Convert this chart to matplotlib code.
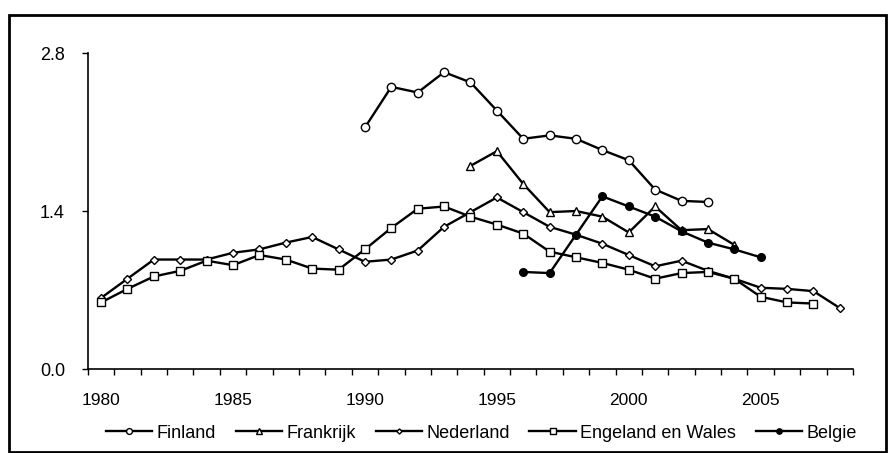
import matplotlib
matplotlib.use("Agg")
import matplotlib.pyplot as plt
from matplotlib.patches import Rectangle
import numpy as np

plt.rcParams["font.family"] = ["Liberation Sans", "DejaVu Sans"]

# --- data ---
fin_years = list(range(1990, 2004))
fin_vals = [2.14, 2.50, 2.45, 2.63, 2.54, 2.29, 2.04, 2.07, 2.04, 1.94, 1.85, 1.59, 1.49, 1.48]

fra_years = list(range(1994, 2005))
fra_vals = [1.80, 1.93, 1.64, 1.39, 1.40, 1.35, 1.21, 1.44, 1.23, 1.24, 1.10]

ned_years = list(range(1980, 2009))
ned_vals = [0.63, 0.80, 0.97, 0.97, 0.97, 1.03, 1.06, 1.12, 1.17, 1.06,
            0.95, 0.97, 1.05, 1.26, 1.39, 1.52, 1.39, 1.26, 1.19, 1.11,
            1.01, 0.91, 0.96, 0.87, 0.80, 0.72, 0.71, 0.69, 0.54]

eng_years = list(range(1980, 2008))
eng_vals = [0.59, 0.71, 0.82, 0.87, 0.96, 0.92, 1.01, 0.97, 0.89, 0.88,
            1.06, 1.25, 1.42, 1.44, 1.35, 1.28, 1.20, 1.04, 0.99, 0.94,
            0.88, 0.80, 0.85, 0.86, 0.80, 0.64, 0.59, 0.58]

bel_years = list(range(1996, 2006))
bel_vals = [0.86, 0.85, 1.19, 1.53, 1.44, 1.35, 1.22, 1.12, 1.06, 0.99]

label_years = [1980, 1985, 1990, 1995, 2000, 2005]
y_ticks = [0.0, 1.4, 2.8]

fig = plt.figure(figsize=(8.88, 4.53), dpi=100)
ax = fig.add_axes([0.099, 0.1854, 0.8616, 0.6976])

lw = 1.7
ax.plot(fin_years, fin_vals, color="black", lw=lw, marker="o", ms=6,
        mfc="white", mec="black", mew=1.0, label="Finland")
ax.plot(fra_years, fra_vals, color="black", lw=lw, marker="^", ms=6,
        mfc="white", mec="black", mew=1.0, label="Frankrijk")
ax.plot(ned_years, ned_vals, color="black", lw=lw, marker="D", ms=3.8,
        mfc="white", mec="black", mew=1.0, label="Nederland")
ax.plot(eng_years, eng_vals, color="black", lw=lw, marker="s", ms=6,
        mfc="white", mec="black", mew=1.0, label="Engeland en Wales")
ax.plot(bel_years, bel_vals, color="black", lw=lw, marker="o", ms=5.5,
        mfc="black", mec="black", mew=1.0, label="Belgie")

ax.set_xlim(1979.5, 2008.5)
ax.set_ylim(0, 2.8)
ax.set_yticks(y_ticks)
ax.set_yticklabels([f"{v:.1f}" for v in y_ticks])
ax.set_xticks(label_years)
ax.set_xticks(np.arange(1979.5, 2009.0, 1.0), minor=True)
ax.tick_params(axis="x", which="major", length=0, pad=17, labelsize=12.5)
ax.tick_params(axis="x", which="minor", length=4, width=1, direction="out")
ax.tick_params(axis="y", length=4.5, width=1, direction="out", pad=12, labelsize=13)

ax.spines["top"].set_visible(False)
ax.spines["right"].set_visible(False)
ax.spines["left"].set_linewidth(1.2)
ax.spines["bottom"].set_linewidth(1.2)

fig.legend(loc="center", bbox_to_anchor=(0.542, 0.044), ncol=5, frameon=False,
           fontsize=13, handlelength=2.55, columnspacing=1.1, handletextpad=0.25,
           markerscale=0.7)

# outer frame around the chart
fig.patches.append(Rectangle((9 / 888, 1 / 453), 877 / 888, 437 / 453,
                             transform=fig.transFigure, fill=False,
                             edgecolor="black", lw=2))

fig.savefig("out.png", dpi=100)
